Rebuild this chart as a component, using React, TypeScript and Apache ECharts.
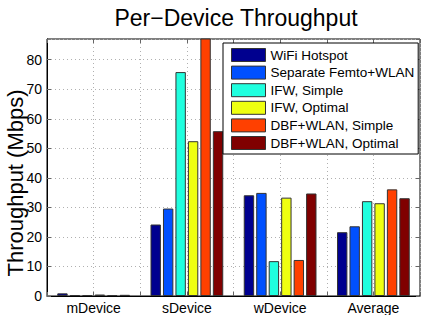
import React, { useEffect, useRef } from "react";
import * as echarts from "echarts";

const categories = ["mDevice", "sDevice", "wDevice", "Average"];
const seriesNames = [
  "WiFi Hotspot",
  "Separate Femto+WLAN",
  "IFW, Simple",
  "IFW, Optimal",
  "DBF+WLAN, Simple",
  "DBF+WLAN, Optimal",
];
const wifiHotspot = [0.9, 24.2, 34.1, 21.6];
const separateFemto = [0.3, 29.6, 34.9, 23.6];
const ifwSimple = [0.3, 75.8, 11.8, 32.1];
const ifwOptimal = [0.5, 52.4, 33.3, 31.4];
const dbfSimple = [0.3, 90, 12.2, 36.1];
const dbfOptimal = [0.4, 55.8, 34.7, 33.1];
const seriesValues = [wifiHotspot, separateFemto, ifwSimple, ifwOptimal, dbfSimple, dbfOptimal];
const colors = ["#00008F", "#0050FF", "#20FFDF", "#EFFF10", "#FF4000", "#800000"];

const FONT = "Liberation Sans, Arial, Helvetica, sans-serif";

export default function App() {
  const ref = useRef<HTMLDivElement>(null);
  useEffect(() => {
    if (!ref.current) return;
    const chart = echarts.init(ref.current, undefined, { renderer: "svg" });
    const dotted = { show: true, lineStyle: { color: "#b0b0b0", type: [1, 3], width: 1 } };
    const option: any = {
      animation: false,
      backgroundColor: "#fff",
      textStyle: { fontFamily: FONT },
      grid: {
        left: 47,
        right: 9,
        top: 39,
        bottom: 19,
        show: true,
        borderColor: "#000",
        borderWidth: 1,
        backgroundColor: "transparent",
      },
      graphic: [
        {
          type: "text",
          x: 236,
          y: 18,
          style: {
            text: "Per\u2212Device Throughput",
            font: `23px ${FONT}`,
            fill: "#000",
            textAlign: "center",
            textVerticalAlign: "middle",
          },
        },
        {
          type: "text",
          x: 15,
          y: 183,
          rotation: Math.PI / 2,
          style: {
            text: "Throughput (Mbps)",
            font: `22px ${FONT}`,
            fill: "#000",
            textAlign: "center",
            textVerticalAlign: "middle",
          },
        },
      ],
      legend: {
        orient: "vertical",
        left: 223,
        top: 43,
        padding: [5, 4, 4, 8],
        backgroundColor: "#fff",
        borderColor: "#000",
        borderWidth: 1,
        borderRadius: 0,
        itemWidth: 34,
        itemHeight: 13,
        itemGap: 3.6,
        icon: "rect",
        itemStyle: { borderColor: "#333", borderWidth: 1 },
        textStyle: { fontSize: 13.5, color: "#000", fontFamily: FONT, lineHeight: 13, padding: [0, 0, 0, 0] },
        data: seriesNames,
      },
      xAxis: [
        {
          type: "category",
          data: categories,
          position: "bottom",
          axisLine: { show: true, lineStyle: { color: "#000", width: 1 } },
          axisTick: { show: false },
          axisLabel: { fontSize: 14, color: "#000", margin: 5, fontFamily: FONT },
          splitLine: { show: false },
        },
        {
          type: "value",
          min: 0.5,
          max: 4.5,
          interval: 0.5,
          position: "bottom",
          axisLine: { show: false },
          axisTick: { show: true, inside: true, length: 4, lineStyle: { color: "#666" } },
          axisLabel: { show: false },
          splitLine: dotted,
        },
        {
          type: "value",
          min: 0.5,
          max: 4.5,
          interval: 0.5,
          position: "top",
          axisLine: { show: false },
          axisTick: { show: true, inside: true, length: 4, lineStyle: { color: "#666" } },
          axisLabel: { show: false },
          splitLine: { show: false },
        },
      ],
      yAxis: [
        {
          type: "value",
          min: 0,
          max: 87,
          interval: 10,
          position: "left",
          axisLine: { show: true, lineStyle: { color: "#000", width: 1 } },
          axisTick: { show: true, inside: true, length: 4, lineStyle: { color: "#666" } },
          axisLabel: { fontSize: 14, color: "#000", margin: 5, fontFamily: FONT, showMaxLabel: false },
          splitLine: dotted,
        },
        {
          type: "value",
          min: 0,
          max: 87,
          interval: 10,
          position: "right",
          axisLine: { show: false },
          axisTick: { show: true, inside: true, length: 4, lineStyle: { color: "#666" } },
          axisLabel: { show: false },
          splitLine: { show: false },
        },
      ],
      series: seriesNames.map((name, i) => ({
        name,
        type: "bar",
        xAxisIndex: 0,
        yAxisIndex: 0,
        data: seriesValues[i],
        barGap: "20%",
        barCategoryGap: "22%",
        clip: true,
        itemStyle: { color: colors[i], borderColor: "#333", borderWidth: 1 },
      })),
    };
    chart.setOption(option);
    return () => chart.dispose();
  }, []);
  return <div ref={ref} style={{ width: 429, height: 315, position: "absolute", left: 0, top: 0 }} />;
}
